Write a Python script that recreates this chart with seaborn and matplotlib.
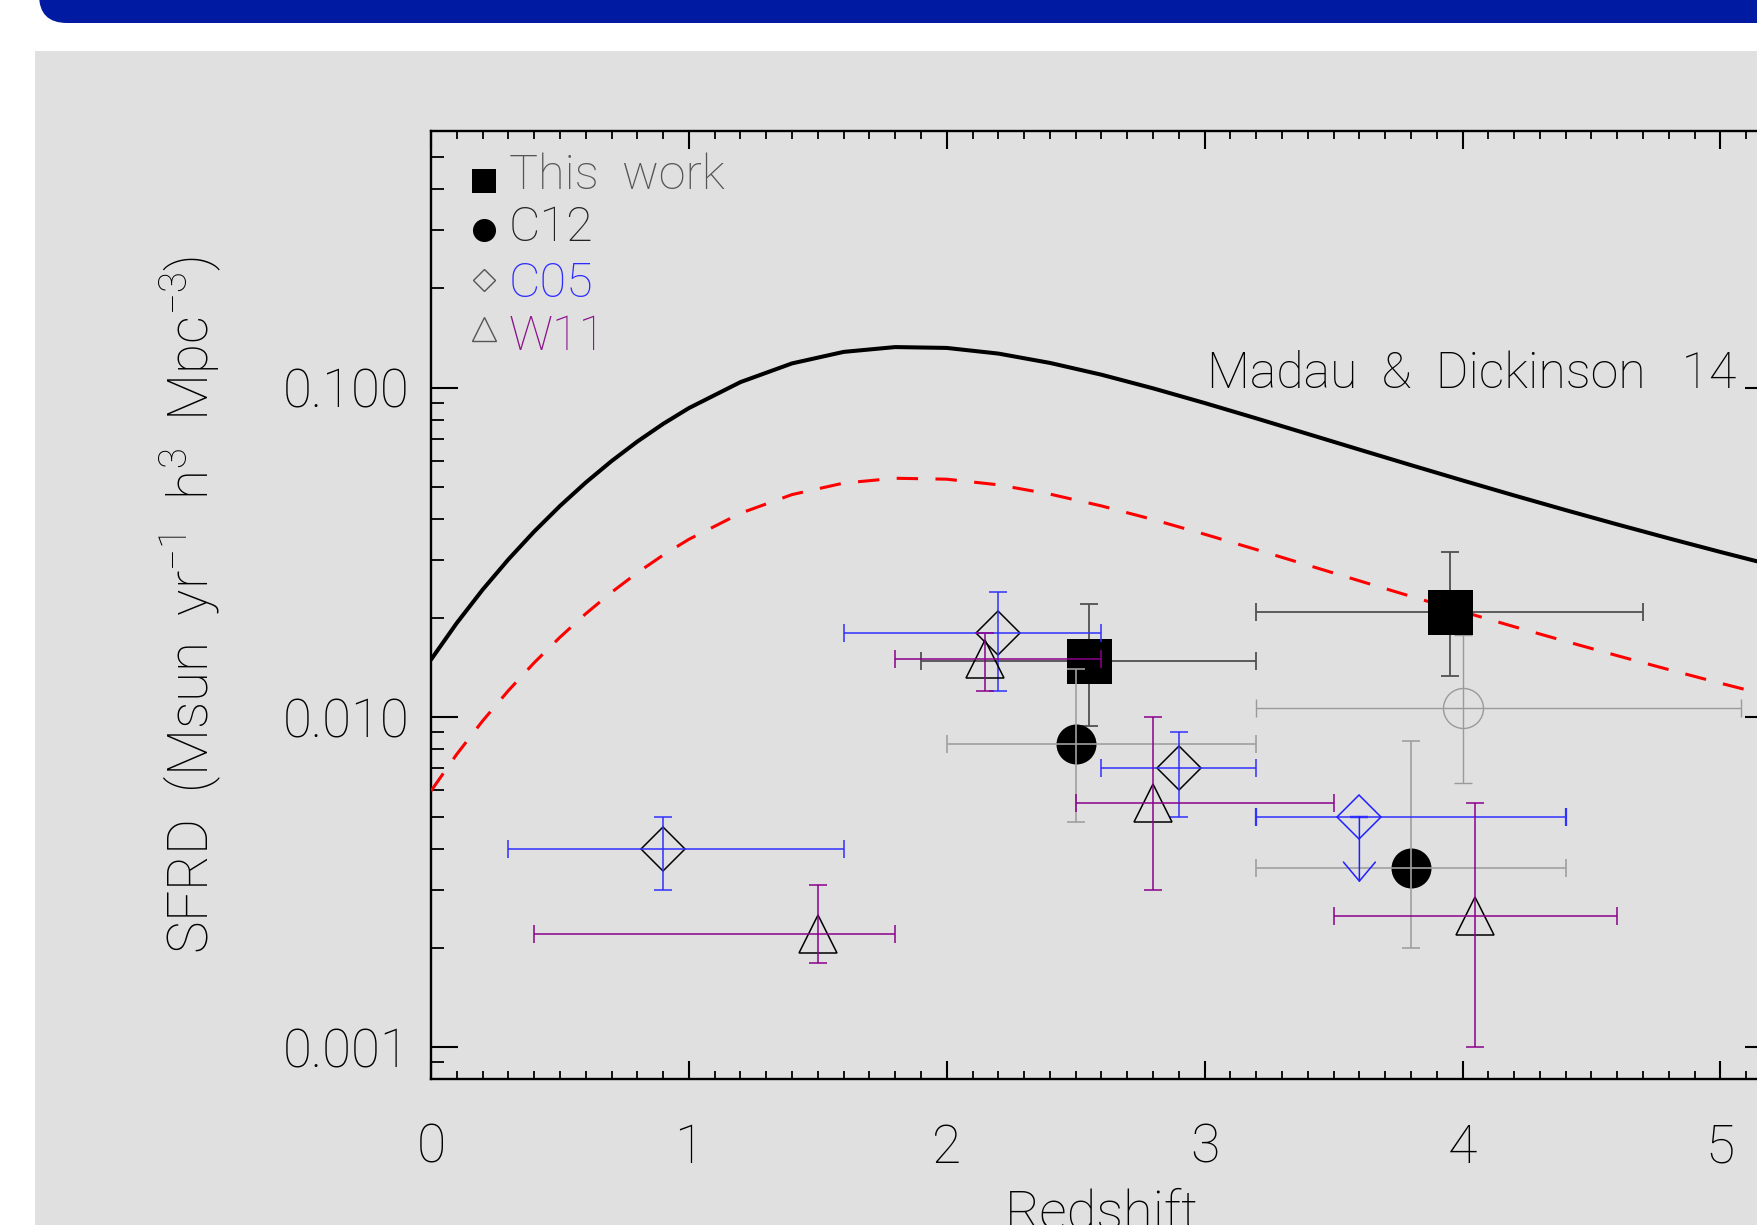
import numpy as np
import matplotlib
matplotlib.use("Agg")
import matplotlib.pyplot as plt
import seaborn as sns
from matplotlib.patches import Rectangle, FancyBboxPatch, ArrowStyle
from matplotlib.ticker import MultipleLocator, LogLocator, NullFormatter

# ---------------- data ----------------
z_curve = [0.0, 0.1, 0.2, 0.3, 0.4, 0.5, 0.6, 0.7, 0.8, 0.9, 1.0, 1.2, 1.4, 1.6,
           1.8, 2.0, 2.2, 2.4, 2.6, 2.8, 3.0, 3.2, 3.4, 3.6, 3.8, 4.0, 4.2, 4.4,
           4.6, 4.8, 5.0, 5.2]
md14_sfrd = [0.01496, 0.01932, 0.02437, 0.03012, 0.03659, 0.04374, 0.05152, 0.05984,
             0.06859, 0.07760, 0.08665, 0.1039, 0.1184, 0.1283, 0.1327, 0.1319,
             0.1268, 0.1188, 0.1094, 0.09947, 0.08978, 0.08067, 0.07234, 0.06485,
             0.05819, 0.05229, 0.04709, 0.04250, 0.03846, 0.03489, 0.03173, 0.02894]
dashed_sfrd = [0.00598, 0.00773, 0.00975, 0.01205, 0.01464, 0.01749, 0.02061, 0.02394,
               0.02744, 0.03104, 0.03466, 0.04158, 0.04737, 0.05133, 0.05309, 0.05274,
               0.05071, 0.04753, 0.04376, 0.03979, 0.03591, 0.03227, 0.02893, 0.02594,
               0.02327, 0.02092, 0.01883, 0.01700, 0.01538, 0.01395, 0.01269, 0.01158]

# This work
tw_z = [2.55, 3.95]
tw_sfrd = [0.0148, 0.0209]
tw_zlo = [1.9, 3.2]
tw_zhi = [3.2, 4.7]
tw_lo = [0.0094, 0.0133]
tw_hi = [0.0221, 0.0317]

# C12 (filled)
c12_z = [2.5, 3.8]
c12_sfrd = [0.0083, 0.0035]
c12_zlo = [2.0, 3.2]
c12_zhi = [3.2, 4.4]
c12_lo = [0.0048, 0.0020]
c12_hi = [0.0140, 0.0085]

# C12 (open grey point)
c12o_z = [4.0]
c12o_sfrd = [0.0107]
c12o_zlo = [3.2]
c12o_zhi = [5.08]
c12o_lo = [0.0063]
c12o_hi = [0.0178]

# C05
c05_z = [0.9, 2.2, 2.9]
c05_sfrd = [0.0040, 0.0180, 0.0070]
c05_zlo = [0.3, 1.6, 2.6]
c05_zhi = [1.6, 2.6, 3.2]
c05_lo = [0.0030, 0.0120, 0.0050]
c05_hi = [0.0050, 0.0240, 0.0090]

# C05 upper limit
c05ul_z = [3.6]
c05ul_sfrd = [0.0050]
c05ul_zlo = [3.2]
c05ul_zhi = [4.4]
c05ul_arrow_to = [0.00316]

# W11
w11_z = [1.5, 2.15, 2.8, 4.05]
w11_sfrd = [0.0022, 0.0150, 0.0055, 0.0025]
w11_zlo = [0.4, 1.8, 2.5, 3.5]
w11_zhi = [1.8, 2.6, 3.5, 4.6]
w11_lo = [0.0018, 0.0120, 0.0030, 0.0010]
w11_hi = [0.0031, 0.0180, 0.0100, 0.0055]

x_ticks = [0, 1, 2, 3, 4, 5]
x_tick_labels = ["0", "1", "2", "3", "4", "5"]
y_ticks = [0.001, 0.01, 0.1]
y_tick_labels = ["0.001", "0.010", "0.100"]

legend_labels = ["This  work", "C12", "C05", "W11"]
legend_colors = ["#555555", "#222222", "#2B2BFF", "#8C148C"]
legend_markers = ["s", "o", "D", "^"]
legend_filled = [True, True, False, False]

# ---------------- style ----------------
sns.set_style("ticks")
plt.rcParams["font.family"] = ["Roboto", "DejaVu Sans"]
plt.rcParams["font.weight"] = 250
plt.rcParams["axes.labelweight"] = 250
plt.rcParams["mathtext.default"] = "regular"
for key in ("text.color", "axes.labelcolor", "xtick.color", "ytick.color",
            "xtick.labelcolor", "ytick.labelcolor"):
    plt.rcParams[key] = "black"

W, H = 1757, 1225
fig = plt.figure(figsize=(W / 100, H / 100), dpi=100)
fig.patch.set_facecolor("white")

# grey panel and blue banner
fig.add_artist(Rectangle((35 / W, 0), 1.0, (H - 51) / H, transform=fig.transFigure,
                         facecolor="#E0E0E0", edgecolor="none", zorder=-10))
fig.add_artist(FancyBboxPatch((0.39, (H - 23) / 100), 30, 5,
                              boxstyle="round,pad=0,rounding_size=0.28",
                              transform=fig.dpi_scale_trans,
                              facecolor="#001BA1", edgecolor="none", zorder=-9))

ax = fig.add_axes([431 / W, (H - 1079) / H, 1341 / W, 948 / H])
ax.set_facecolor("none")
ax.set_yscale("log")
ax.set_xlim(0, 5.2)
ax.set_ylim(0.0008, 0.6)

# curves
sns.lineplot(x=z_curve, y=md14_sfrd, ax=ax, color="black", lw=2.9, zorder=3)
sns.lineplot(x=z_curve, y=dashed_sfrd, ax=ax, color="#FF0000", lw=2.2,
             linestyle=(0, (7, 5.7)), zorder=3)


def draw_bars(z, v, zlo, zhi, lo, hi, color, lw, zo):
    z = np.asarray(z); v = np.asarray(v)
    xerr = [z - np.asarray(zlo), np.asarray(zhi) - z]
    yerr = [v - np.asarray(lo), np.asarray(hi) - v]
    ax.errorbar(z, v, xerr=xerr, yerr=yerr, fmt="none", ecolor=color,
                elinewidth=lw, capsize=6.2, capthick=lw, zorder=zo)


# open grey C12 point
draw_bars(c12o_z, c12o_sfrd, c12o_zlo, c12o_zhi, c12o_lo, c12o_hi, "#9A9A9A", 1.0, 4)
ax.plot(c12o_z, c12o_sfrd, ls="none", marker="o", ms=28.8, mfc="none",
        mec="#9A9A9A", mew=1.0, zorder=4.1)

# This work
draw_bars(tw_z, tw_sfrd, tw_zlo, tw_zhi, tw_lo, tw_hi, "#505050", 1.3, 5)
ax.plot(tw_z, tw_sfrd, ls="none", marker="s", ms=32.4, mfc="black", mec="black",
        mew=0, zorder=5.1)

# C12
draw_bars(c12_z, c12_sfrd, c12_zlo, c12_zhi, c12_lo, c12_hi, "#A0A0A0", 1.2, 6)
ax.plot(c12_z, c12_sfrd, ls="none", marker="o", ms=28.8, mfc="black", mec="black",
        mew=0, zorder=5.9)

# C05
draw_bars(c05_z, c05_sfrd, c05_zlo, c05_zhi, c05_lo, c05_hi, "#3030FF", 1.1, 7)
ax.plot(c05_z, c05_sfrd, ls="none", marker="D", ms=22.4, mfc="none", mec="black",
        mew=1.1, zorder=6.9)

# C05 upper limit
zu = np.asarray(c05ul_z)
ax.errorbar(zu, c05ul_sfrd, xerr=[zu - np.asarray(c05ul_zlo), np.asarray(c05ul_zhi) - zu],
            yerr=[[0], [0]], fmt="none", ecolor="#3030FF", elinewidth=1.1, capsize=6.2,
            capthick=1.6, zorder=7)
ax.plot(c05ul_z, c05ul_sfrd, ls="none", marker="D", ms=22.4, mfc="none", mec="#2020FF",
        mew=1.1, zorder=7.1)
for zz, top, bot in zip(c05ul_z, c05ul_sfrd, c05ul_arrow_to):
    ax.annotate("", xy=(zz, bot), xytext=(zz, top),
                arrowprops=dict(arrowstyle=ArrowStyle("->", head_length=13.7, head_width=11.5),
                                color="#2020FF", lw=1.1, shrinkA=0, shrinkB=0,
                                mutation_scale=1), zorder=7.2)

# W11
draw_bars(w11_z, w11_sfrd, w11_zlo, w11_zhi, w11_lo, w11_hi, "#8B008B", 1.1, 8)
ax.plot(w11_z, w11_sfrd, ls="none", marker="^", ms=27.4, mfc="none", mec="black",
        mew=1.1, zorder=7.9)

# ---------------- axes ----------------
ax.set_xticks(x_ticks, x_tick_labels)
ax.set_yticks(y_ticks, y_tick_labels)
ax.xaxis.set_minor_locator(MultipleLocator(0.1))
ax.yaxis.set_minor_locator(LogLocator(base=10, subs=np.arange(2, 10) * 1.0, numticks=30))
ax.yaxis.set_minor_formatter(NullFormatter())

ax.tick_params(axis="both", which="both", direction="in", top=True, right=True,
               colors="black")
ax.tick_params(axis="y", which="major", length=19.4, width=1.5, pad=15.8, labelsize=38)
ax.tick_params(axis="y", which="minor", length=9.4, width=1.3)
ax.tick_params(axis="x", which="major", length=13, width=1.5, pad=31, labelsize=38.5)
ax.tick_params(axis="x", which="minor", length=5.8, width=1.3)
for sp in ax.spines.values():
    sp.set_linewidth(1.7)
    sp.set_color("black")
    sp.set_visible(True)

ax.set_xlabel("Redshift", fontsize=39, fontweight=250, color="black")
ax.xaxis.set_label_coords(0.5, -0.115)
ax.set_ylabel("SFRD  (Msun  yr$^{-1}$  h$^{3}$  Mpc$^{-3}$)", fontsize=39.5,
              fontweight=250, color="black")
ax.yaxis.set_label_coords(-0.155, 0.5)

# annotation
ax.text(0.5787, 0.7289, "Madau  &  Dickinson   14", transform=ax.transAxes, ha="left",
        va="baseline", fontsize=36, color="black", clip_on=False)

# legend (manual)
leg_mx = 0.0395
leg_my = [0.9473, 0.8956, 0.8428, 0.7911]
leg_tx = 0.0582
leg_ty = [0.9388, 0.8840, 0.8249, 0.7690]
leg_ms = {"s": 16.6, "o": 16.6, "D": 11.7, "^": 16.6}
for lab, col, mk, filled, my, ty in zip(legend_labels, legend_colors, legend_markers,
                                       legend_filled, leg_my, leg_ty):
    if filled:
        ax.plot([leg_mx], [my], transform=ax.transAxes, marker=mk, ms=leg_ms[mk],
                mfc="black", mec="black", mew=0, ls="none", clip_on=False)
    else:
        ax.plot([leg_mx], [my], transform=ax.transAxes, marker=mk, ms=leg_ms[mk],
                mfc="none", mec="#555555", mew=1.0, ls="none", clip_on=False)
    ax.text(leg_tx, ty, lab, transform=ax.transAxes, ha="left", va="baseline",
            fontsize=35, color=col)

fig.savefig("out.png", dpi=100)
